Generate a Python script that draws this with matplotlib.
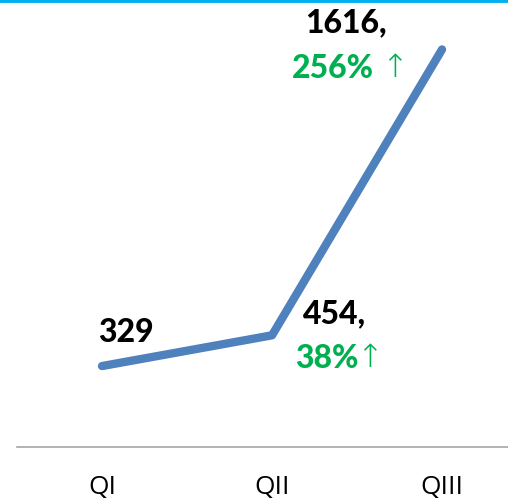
import matplotlib.pyplot as plt
import numpy as np

# Quarterly values and growth labels
quarters = ['QI', 'QII', 'QIII']
values = [329, 454, 1616]
value_labels = ['329', '454,', '1616,']
growth_labels = ['', '38%', '256%']

fig = plt.figure(figsize=(5.08, 5.04), dpi=100)
ax = fig.add_axes([17 / 508, 57 / 504, 491 / 508, 447 / 504])

x = np.arange(len(quarters))
ax.plot(x, values, color='#4F81BD', linewidth=6, solid_capstyle='round',
        solid_joinstyle='round', clip_on=False)

ax.set_xlim(-0.5, 2.388)
ax.set_ylim(0, 1817)

fam = ['Lato', 'DejaVu Sans']
lab = dict(textcoords='offset pixels', va='center', fontsize=23,
           fontweight='black', family=fam)
arrow = dict(textcoords='offset pixels', va='center', ha='left', fontsize=23,
             fontweight='light', family=['DejaVu Sans'], color='#00B050')

# value labels (black) and growth labels (green)
ax.annotate(value_labels[0], (x[0], values[0]), xytext=(24, 34), ha='center', **lab)
ax.annotate(value_labels[1], (x[1], values[1]), xytext=(31, 22), ha='left', **lab)
ax.annotate(growth_labels[1], (x[1], values[1]), xytext=(23, -23), ha='left',
            color='#00B050', **lab)
ax.annotate('↑', (x[1], values[1]), xytext=(84, -23), **arrow)
ax.annotate(value_labels[2], (x[2], values[2]), xytext=(-137, 27), ha='left', **lab)
ax.annotate(growth_labels[2], (x[2], values[2]), xytext=(-150, -19), ha='left',
            color='#00B050', **lab)
ax.annotate('↑', (x[2], values[2]), xytext=(-61, -19), **arrow)

# axes styling
for side in ['top', 'right', 'left']:
    ax.spines[side].set_visible(False)
ax.spines['bottom'].set_color('#A6A6A6')
ax.spines['bottom'].set_linewidth(1.2)
ax.set_yticks([])
ax.set_xticks(x)
ax.set_xticklabels(quarters, fontsize=19, family='Open Sans')
ax.tick_params(axis='x', length=0, pad=20)

# blue rule across the top
fig.add_artist(plt.Line2D([0, 1], [1, 1], transform=fig.transFigure,
                          color='#00B0F0', linewidth=3.5))

fig.savefig('out.png', dpi=100)
